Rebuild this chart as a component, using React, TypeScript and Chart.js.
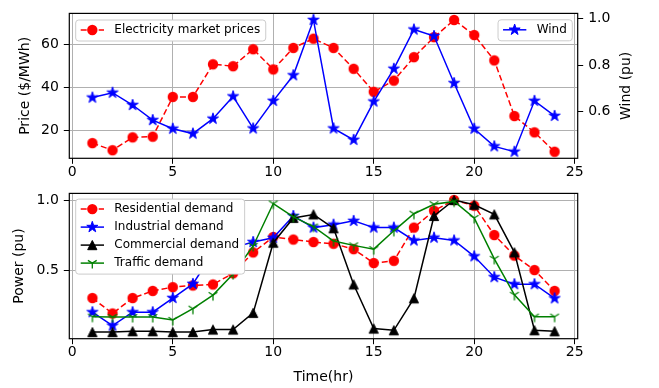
import React, { useEffect, useRef } from 'react';
import { Chart, registerables } from 'chart.js';
Chart.register(...registerables);

// ---------------- data ----------------
const hours = [1, 2, 3, 4, 5, 6, 7, 8, 9, 10, 11, 12, 13, 14, 15, 16, 17, 18, 19, 20, 21, 22, 23, 24];
const price = [14.0, 10.7, 16.7, 17.0, 35.5, 35.5, 50.7, 49.8, 57.7, 48.3, 58.3, 62.6, 58.3, 48.6, 37.9, 43.1, 54.0, 63.3, 71.3, 64.3, 52.5, 26.6, 19.0, 10.0];
const wind = [0.661, 0.682, 0.629, 0.564, 0.527, 0.506, 0.570, 0.666, 0.528, 0.647, 0.757, 0.995, 0.528, 0.479, 0.644, 0.785, 0.954, 0.926, 0.723, 0.527, 0.451, 0.428, 0.647, 0.582];
const residential = [0.30, 0.19, 0.30, 0.351, 0.378, 0.39, 0.397, 0.477, 0.626, 0.736, 0.718, 0.70, 0.688, 0.649, 0.55, 0.566, 0.803, 0.924, 1.0, 0.959, 0.75, 0.603, 0.50, 0.351];
const industrial = [0.199, 0.103, 0.199, 0.199, 0.30, 0.401, 0.62, 0.66, 0.70, 0.73, 0.886, 0.803, 0.824, 0.851, 0.803, 0.803, 0.711, 0.731, 0.711, 0.598, 0.449, 0.399, 0.399, 0.298];
const commercial = [0.057, 0.057, 0.063, 0.063, 0.057, 0.057, 0.075, 0.075, 0.194, 0.695, 0.872, 0.897, 0.798, 0.397, 0.082, 0.070, 0.298, 0.886, 1.0, 0.966, 0.897, 0.626, 0.070, 0.063];
const traffic = [0.167, 0.165, 0.165, 0.165, 0.144, 0.224, 0.321, 0.472, 0.672, 0.975, 0.879, 0.810, 0.707, 0.676, 0.649, 0.780, 0.902, 0.970, 0.99, 0.872, 0.580, 0.323, 0.167, 0.167];

const xTickValues = [0, 5, 10, 15, 20, 25];
const priceTicks = [20, 40, 60];
const windTicks = [0.6, 0.8, 1.0];
const powerTicks = [0.5, 1.0];

// ---------------- styles ----------------
const FONT = 'DejaVu Sans';
const GRID = '#b0b0b0';
const RED = '#ff0000';
const BLUE = '#0000ff';
const BLACK = '#000000';
const GREEN = '#008000';
const DASH = [6, 3];

type Kind = 'circle' | 'star' | 'triangle' | 'tri';

function drawMarker(ctx: CanvasRenderingContext2D, kind: Kind, x: number, y: number, color: string) {
  ctx.save();
  ctx.fillStyle = color;
  ctx.strokeStyle = color;
  ctx.setLineDash([]);
  if (kind === 'circle') {
    ctx.beginPath();
    ctx.arc(x, y, 5.2, 0, Math.PI * 2);
    ctx.fill();
  } else if (kind === 'star') {
    const R = 5.8, r = R * 0.382;
    ctx.beginPath();
    for (let i = 0; i < 10; i++) {
      const a = -Math.PI / 2 + (i * Math.PI) / 5;
      const rr = i % 2 === 0 ? R : r;
      ctx.lineTo(x + rr * Math.cos(a), y + rr * Math.sin(a));
    }
    ctx.closePath();
    ctx.fill();
    ctx.lineWidth = 1;
    ctx.stroke();
  } else if (kind === 'triangle') {
    const h = 4.6;
    ctx.beginPath();
    ctx.moveTo(x, y - h);
    ctx.lineTo(x + h, y + h);
    ctx.lineTo(x - h, y + h);
    ctx.closePath();
    ctx.fill();
    ctx.lineWidth = 1;
    ctx.stroke();
  } else {
    const r = 5.5;
    ctx.lineWidth = 1.3;
    ctx.beginPath();
    ctx.moveTo(x, y); ctx.lineTo(x, y + r);
    ctx.moveTo(x, y); ctx.lineTo(x + 0.8 * r, y - 0.5 * r);
    ctx.moveTo(x, y); ctx.lineTo(x - 0.8 * r, y - 0.5 * r);
    ctx.stroke();
  }
  ctx.restore();
}

function markerCanvas(kind: Kind, color: string) {
  const c = document.createElement('canvas');
  c.width = 16;
  c.height = 16;
  drawMarker(c.getContext('2d')!, kind, 8, 8, color);
  return c;
}

function padRange(vals: number[], frac = 0.05) {
  const mn = Math.min(...vals), mx = Math.max(...vals), r = mx - mn;
  return { min: mn - r * frac, max: mx + r * frac };
}

type LegendItem = { label: string; color: string; dash: number[]; marker: Kind };
type LegendSpec = { items: LegendItem[]; corner: 'left' | 'right'; dx: number; dy: number };

function drawLegend(chart: any, spec: LegendSpec) {
  const ctx: CanvasRenderingContext2D = chart.ctx;
  const a = chart.chartArea;
  ctx.save();
  ctx.font = `12px "${FONT}"`;
  const tw = Math.max(...spec.items.map((it) => ctx.measureText(it.label).width));
  const w = 38.6 + tw + 5.5;
  const h = 3 + 18 * spec.items.length;
  const left = spec.corner === 'left' ? a.left + spec.dx : a.right - spec.dx - w;
  const top = a.top + spec.dy;
  const rad = 3;
  ctx.beginPath();
  ctx.moveTo(left + rad, top);
  ctx.lineTo(left + w - rad, top);
  ctx.arcTo(left + w, top, left + w, top + rad, rad);
  ctx.lineTo(left + w, top + h - rad);
  ctx.arcTo(left + w, top + h, left + w - rad, top + h, rad);
  ctx.lineTo(left + rad, top + h);
  ctx.arcTo(left, top + h, left, top + h - rad, rad);
  ctx.lineTo(left, top + rad);
  ctx.arcTo(left, top, left + rad, top, rad);
  ctx.closePath();
  ctx.fillStyle = '#ffffff';
  ctx.fill();
  ctx.strokeStyle = '#cccccc';
  ctx.lineWidth = 1;
  ctx.stroke();
  spec.items.forEach((it, i) => {
    const cy = top + 10 + i * 18;
    ctx.save();
    ctx.strokeStyle = it.color;
    ctx.lineWidth = 1.5;
    ctx.setLineDash(it.dash);
    ctx.beginPath();
    ctx.moveTo(left + 5, cy);
    ctx.lineTo(left + 28.3, cy);
    ctx.stroke();
    ctx.restore();
    drawMarker(ctx, it.marker, left + 16.6, cy, it.color);
    ctx.fillStyle = '#000';
    ctx.textAlign = 'left';
    ctx.textBaseline = 'middle';
    ctx.fillText(it.label, left + 38.6, cy);
  });
  ctx.restore();
}

function framePlugin(legends: LegendSpec[], extra?: (chart: any) => void) {
  return {
    id: 'frame',
    afterDatasetsDraw(chart: any) {
      const { ctx, chartArea: a } = chart;
      ctx.save();
      ctx.strokeStyle = '#000';
      ctx.lineWidth = 1.2;
      ctx.strokeRect(a.left, a.top, a.right - a.left, a.bottom - a.top);
      ctx.restore();
      legends.forEach((l) => drawLegend(chart, l));
      if (extra) extra(chart);
    },
  };
}

const tickFont = { family: FONT, size: 14 };
const titleFont = { family: FONT, size: 14 };

function xScale(height: number, title?: any) {
  const r = padRange(hours);
  return {
    type: 'linear',
    position: 'bottom',
    min: r.min,
    max: r.max,
    afterBuildTicks: (s: any) => { s.ticks = xTickValues.map((v) => ({ value: v })); },
    afterFit: (s: any) => { s.height = height; },
    ticks: { font: tickFont, color: '#000', padding: 0, maxRotation: 0, autoSkip: false },
    grid: { color: GRID, lineWidth: 1, tickLength: 5.5, tickColor: '#000', tickWidth: 1 },
    border: { display: false },
    title: title || { display: false },
  };
}

function yScale(pos: 'left' | 'right', vals: number[], ticks: number[], width: number, decimals: number, grid: boolean, title?: any) {
  const r = padRange(vals);
  return {
    type: 'linear',
    position: pos,
    min: r.min,
    max: r.max,
    afterBuildTicks: (s: any) => { s.ticks = ticks.map((v) => ({ value: v })); },
    afterFit: (s: any) => { s.width = width; },
    ticks: {
      font: tickFont,
      color: '#000',
      padding: 5,
      callback: (v: any) => Number(v).toFixed(decimals),
    },
    grid: { color: GRID, lineWidth: 1, tickLength: 5.5, tickColor: '#000', tickWidth: 1, drawOnChartArea: grid },
    border: { display: false },
    title: title || { display: false },
  };
}

function ds(label: string, vals: number[], color: string, dash: number[], kind: Kind, order: number, yAxisID = 'y') {
  return {
    label,
    data: hours.map((h, i) => ({ x: h, y: vals[i] })),
    borderColor: color,
    backgroundColor: color,
    borderWidth: 1.5,
    borderDash: dash,
    pointStyle: markerCanvas(kind, color),
    pointRadius: 5,
    fill: false,
    tension: 0,
    order,
    yAxisID,
  };
}

function topConfig(): any {
  return {
    type: 'line',
    data: {
      datasets: [
        ds('Electricity market prices', price, RED, DASH, 'circle', 2, 'y'),
        ds('Wind', wind, BLUE, [], 'star', 1, 'y2'),
      ],
    },
    options: {
      responsive: false,
      animation: false,
      devicePixelRatio: 1,
      events: [],
      layout: { padding: { top: 8.3, left: 0, right: 0, bottom: 0 } },
      plugins: { legend: { display: false }, tooltip: { enabled: false } },
      scales: {
        x: xScale(180 - 158.3),
        y: yScale('left', price, priceTicks, 69.3, 0, true, {
          display: true, text: 'Price ($/MWh)', font: titleFont, color: '#000', padding: { top: 17, bottom: 0 },
        }),
        y2: yScale('right', wind, windTicks, 659 - 577.7, 1, false),
      },
    },
    plugins: [
      framePlugin(
        [
          { items: [{ label: 'Electricity market prices', color: RED, dash: DASH, marker: 'circle' }], corner: 'left', dx: 6.4, dy: 6.6 },
          { items: [{ label: 'Wind', color: BLUE, dash: [], marker: 'star' }], corner: 'right', dx: 5.4, dy: 6.4 },
        ],
        (chart: any) => {
          const { ctx, chartArea: a } = chart;
          ctx.save();
          ctx.translate(626.3, (a.top + a.bottom) / 2);
          ctx.rotate(-Math.PI / 2);
          ctx.font = `14px "${FONT}"`;
          ctx.fillStyle = '#000';
          ctx.textAlign = 'center';
          ctx.textBaseline = 'middle';
          ctx.fillText('Wind (pu)', 0, 0);
          ctx.restore();
        }
      ),
    ],
  };
}

function bottomConfig(): any {
  const all = [...residential, ...industrial, ...commercial, ...traffic];
  return {
    type: 'line',
    data: {
      datasets: [
        ds('Residential demand', residential, RED, DASH, 'circle', 4),
        ds('Industrial demand', industrial, BLUE, [], 'star', 3),
        ds('Commercial demand', commercial, BLACK, [], 'triangle', 2),
        ds('Traffic demand', traffic, GREEN, [], 'tri', 1),
      ],
    },
    options: {
      responsive: false,
      animation: false,
      devicePixelRatio: 1,
      events: [],
      layout: { padding: { top: 9.3, left: 0, right: 659 - 577.7, bottom: 0 } },
      plugins: { legend: { display: false }, tooltip: { enabled: false } },
      scales: {
        x: xScale(208 - 9.3 - (338.7 - 189.3), {
          display: true, text: 'Time(hr)', font: titleFont, color: '#000', padding: { top: 0, bottom: 2.6 },
        }),
        y: yScale('left', all, powerTicks, 69.3, 1, true, {
          display: true, text: 'Power (pu)', font: titleFont, color: '#000', padding: { top: 11.1, bottom: 0 },
        }),
      },
    },
    plugins: [
      framePlugin([
        {
          items: [
            { label: 'Residential demand', color: RED, dash: DASH, marker: 'circle' },
            { label: 'Industrial demand', color: BLUE, dash: [], marker: 'star' },
            { label: 'Commercial demand', color: BLACK, dash: [], marker: 'triangle' },
            { label: 'Traffic demand', color: GREEN, dash: [], marker: 'tri' },
          ],
          corner: 'left',
          dx: 6.4,
          dy: 5.7,
        },
      ]),
    ],
  };
}

export default function App() {
  const topRef = useRef<HTMLCanvasElement>(null);
  const botRef = useRef<HTMLCanvasElement>(null);
  useEffect(() => {
    const charts = [new Chart(topRef.current!, topConfig()), new Chart(botRef.current!, bottomConfig())];
    return () => charts.forEach((c) => c.destroy());
  }, []);
  return (
    <div style={{ position: 'fixed', left: 0, top: 0, width: 659, height: 388, background: '#fff' }}>
      <canvas ref={topRef} width={659} height={180} style={{ position: 'absolute', left: 0, top: 0, width: 659, height: 180 }} />
      <canvas ref={botRef} width={659} height={208} style={{ position: 'absolute', left: 0, top: 180, width: 659, height: 208 }} />
    </div>
  );
}
